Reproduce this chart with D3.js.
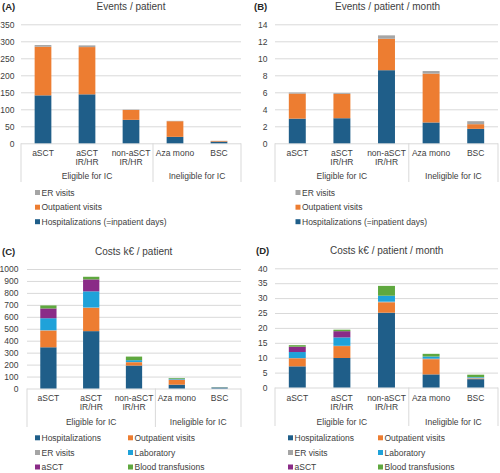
<!DOCTYPE html>
<html><head><meta charset="utf-8">
<script src="https://cdn.jsdelivr.net/npm/d3@7/dist/d3.min.js"></script>
<style>
body{margin:0;background:#fff}
svg{display:block;font-family:"Liberation Sans",Arial,sans-serif}
</style>
</head><body>
<svg id="chart" width="500" height="473"></svg>
<script>
// ---------- data ----------
const categoryLines = [["aSCT"], ["aSCT", "IR/HR"], ["non-aSCT", "IR/HR"], ["Aza mono"], ["BSC"]];
const groupNames = ["Eligible for IC", "Ineligible for IC"];
const groupSizes = [3, 2];

// Panel A: Events / patient
const evtHospA = [141, 144, 69, 19, 5];
const evtOutpA = [143, 139, 29, 46, 2];
const evtErA   = [5, 5, 1, 1, 0.3];
const ticksA = [0, 50, 100, 150, 200, 250, 300, 350];

// Panel B: Events / patient / month
const evtHospB = [2.9, 2.95, 8.6, 2.45, 1.7];
const evtOutpB = [2.95, 2.85, 3.7, 5.75, 0.55];
const evtErB   = [0.12, 0.1, 0.4, 0.3, 0.35];
const ticksB = [0, 2, 4, 6, 8, 10, 12, 14];

// Panel C: Costs k€ / patient
const costHospC  = [345, 480, 192, 32, 8];
const costOutpC  = [140, 195, 28, 42, 1];
const costErC    = [3, 3, 2, 1, 0.5];
const costLabC   = [100, 135, 15, 7, 1];
const costAsctC  = [82, 100, 0, 0, 0];
const costBloodC = [25, 22, 30, 6, 1];
const ticksC = [0, 100, 200, 300, 400, 500, 600, 700, 800, 900, 1000];

// Panel D: Costs k€ / patient / month
const costHospD  = [7.1, 9.9, 25.1, 4.4, 2.8];
const costOutpD  = [2.7, 4.0, 3.5, 5.1, 0.2];
const costErD    = [0.1, 0.1, 0.2, 0.2, 0.3];
const costLabD   = [2.0, 2.8, 2.0, 0.7, 0.2];
const costAsctD  = [1.8, 2.1, 0, 0, 0];
const costBloodD = [0.5, 0.5, 3.3, 0.9, 0.8];
const ticksD = [0, 5, 10, 15, 20, 25, 30, 35, 40];

const eventSeries = ["Hospitalizations (=inpatient days)", "Outpatient visits", "ER visits"];
const costSeries = ["Hospitalizations", "Outpatient visits", "ER visits", "Laboratory", "aSCT", "Blood transfusions"];

// ---------- styles ----------
const colors = {
  "Hospitalizations (=inpatient days)": "#1F5E89",
  "Hospitalizations": "#1F5E89",
  "Outpatient visits": "#ED7D31",
  "ER visits": "#A5A5A5",
  "Laboratory": "#1FA2D9",
  "aSCT": "#8A2B87",
  "Blood transfusions": "#5FA83F"
};
const textCol = "#404040";
const gridCol = "#D9D9D9";

const svg = d3.select("#chart");
svg.append("rect").attr("width", 500).attr("height", 473).attr("fill", "#fff");

function panel(o) {
  const g = svg.append("g");
  const rows = d3.range(5).map(i => {
    const r = {i};
    o.keys.forEach((k, j) => r[k] = o.values[j][i]);
    return r;
  });
  const x = d3.scaleBand().domain(d3.range(5)).range([o.x0, o.x1]).paddingInner(0.62).paddingOuter(0.31);
  const y = d3.scaleLinear().domain([0, d3.max(o.ticks)]).range([o.y0, o.y1]);

  // grid + y axis
  const ax = g.append("g").attr("transform", `translate(${o.x0},0)`)
    .call(d3.axisLeft(y).tickValues(o.ticks).tickFormat(d3.format("d"))
      .tickSize(-(o.x1 - o.x0)).tickPadding(o.x0 - o.labelRight));
  ax.select(".domain").remove();
  ax.selectAll(".tick line").attr("stroke", gridCol).attr("stroke-width", 1);
  ax.selectAll(".tick text").attr("fill", textCol).attr("font-size", 8.5)
    .attr("font-family", '"Liberation Sans",Arial,sans-serif');

  // bars
  const stacked = d3.stack().keys(o.keys)(rows);
  g.append("g").selectAll("g").data(stacked).join("g")
    .attr("fill", d => colors[d.key])
    .selectAll("rect").data(d => d).join("rect")
    .attr("x", d => x(d.data.i))
    .attr("width", x.bandwidth())
    .attr("y", d => y(d[1]))
    .attr("height", d => Math.max(0, y(d[0]) - y(d[1])));

  // category labels
  const step = x.step();
  categoryLines.forEach((lines, i) => {
    const cx = x(i) + x.bandwidth() / 2;
    lines.forEach((t, k) => {
      g.append("text").attr("x", cx).attr("y", o.catY + k * 9)
        .attr("text-anchor", "middle").attr("dominant-baseline", "central")
        .attr("fill", textCol).attr("font-size", 8.5).text(t);
    });
  });
  // group labels & separators
  let start = 0;
  const seps = [o.x0];
  groupNames.forEach((name, gi) => {
    const a = o.x0 + start * step, b = o.x0 + (start + groupSizes[gi]) * step;
    g.append("text").attr("x", (a + b) / 2).attr("y", o.grpY)
      .attr("text-anchor", "middle").attr("dominant-baseline", "central")
      .attr("fill", textCol).attr("font-size", 8.5).text(name);
    start += groupSizes[gi];
    seps.push(b);
  });
  g.selectAll("line.sep").data(seps).join("line").attr("class", "sep")
    .attr("x1", d => d).attr("x2", d => d).attr("y1", o.y0).attr("y2", o.sepEnd)
    .attr("stroke", gridCol).attr("stroke-width", 1);

  // title and panel label
  g.append("text").attr("x", o.titleX).attr("y", o.titleY).attr("text-anchor", "middle")
    .attr("dominant-baseline", "central").attr("fill", "#404040").attr("font-size", 10).text(o.title);
  g.append("text").attr("x", o.labX).attr("y", o.titleY).attr("dominant-baseline", "central")
    .attr("fill", "#262626").attr("font-size", 9.5).attr("font-weight", "bold").text(o.label);

  // legend
  o.legend.forEach(it => {
    g.append("rect").attr("x", it.x).attr("y", it.y - 2.5).attr("width", 5).attr("height", 5)
      .attr("fill", colors[it.key]);
    g.append("text").attr("x", it.x + 6.5).attr("y", it.y).attr("dominant-baseline", "central")
      .attr("fill", textCol).attr("font-size", 8.5).text(it.key);
  });
}

const rowsAB = [192.5, 207.2, 221.7];
const rowsCD = [437.8, 452.5, 467];

panel({
  label: "(A)", title: "Events / patient", titleX: 131, titleY: 6, labX: 2,
  x0: 21, x1: 241, y0: 143.3, y1: 24.3, labelRight: 14.5,
  ticks: ticksA, keys: eventSeries, values: [evtHospA, evtOutpA, evtErA],
  catY: 152.7, grpY: 175.7, sepEnd: 182,
  legend: [
    {key: "ER visits", x: 35, y: rowsAB[0]},
    {key: "Outpatient visits", x: 35, y: rowsAB[1]},
    {key: "Hospitalizations (=inpatient days)", x: 35, y: rowsAB[2]}
  ]
});

panel({
  label: "(B)", title: "Events / patient / month", titleX: 387.5, titleY: 6, labX: 254,
  x0: 275, x1: 498, y0: 143.3, y1: 24.3, labelRight: 267.5,
  ticks: ticksB, keys: eventSeries, values: [evtHospB, evtOutpB, evtErB],
  catY: 152.7, grpY: 175.7, sepEnd: 182,
  legend: [
    {key: "ER visits", x: 295.5, y: rowsAB[0]},
    {key: "Outpatient visits", x: 295.5, y: rowsAB[1]},
    {key: "Hospitalizations (=inpatient days)", x: 295.5, y: rowsAB[2]}
  ]
});

panel({
  label: "(C)", title: "Costs k€ / patient", titleX: 133.7, titleY: 251.5, labX: 2,
  x0: 27, x1: 241, y0: 388.5, y1: 269, labelRight: 18.5,
  ticks: ticksC, keys: costSeries, values: [costHospC, costOutpC, costErC, costLabC, costAsctC, costBloodC],
  catY: 398, grpY: 421.7, sepEnd: 427,
  legend: [
    {key: "Hospitalizations", x: 35, y: rowsCD[0]},
    {key: "Outpatient visits", x: 128, y: rowsCD[0]},
    {key: "ER visits", x: 35, y: rowsCD[1]},
    {key: "Laboratory", x: 128, y: rowsCD[1]},
    {key: "aSCT", x: 35, y: rowsCD[2]},
    {key: "Blood transfusions", x: 128, y: rowsCD[2]}
  ]
});

panel({
  label: "(D)", title: "Costs k€ / patient / month", titleX: 386.7, titleY: 250.5, labX: 256,
  x0: 275, x1: 498, y0: 387.5, y1: 268.3, labelRight: 267.5,
  ticks: ticksD, keys: costSeries, values: [costHospD, costOutpD, costErD, costLabD, costAsctD, costBloodD],
  catY: 397.7, grpY: 421.7, sepEnd: 426,
  legend: [
    {key: "Hospitalizations", x: 288, y: rowsCD[0]},
    {key: "Outpatient visits", x: 378, y: rowsCD[0]},
    {key: "ER visits", x: 288, y: rowsCD[1]},
    {key: "Laboratory", x: 378, y: rowsCD[1]},
    {key: "aSCT", x: 288, y: rowsCD[2]},
    {key: "Blood transfusions", x: 378, y: rowsCD[2]}
  ]
});
</script>
</body></html>
